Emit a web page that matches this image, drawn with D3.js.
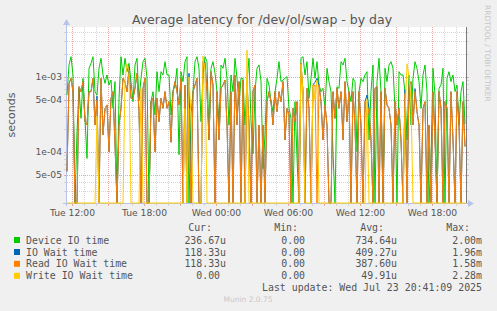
<!DOCTYPE html>
<html><head><meta charset="utf-8">
<script src="https://cdn.jsdelivr.net/npm/d3@7"></script>
<style>body{margin:0;background:#f0f0f0}svg{display:block}</style>
</head><body><svg id="c" width="497" height="311"></svg>
<script>
// ---- data (microseconds, one sample every 10 minutes from Tue 11:35) ----
const seriesNames = ["Device IO time", "IO Wait time", "Read IO Wait time", "Write IO Wait time"];
const seriesColors = ["#00CC00", "#0066B3", "#FF8000", "#FFCC00"];
const deviceIO = [
575,1445,1866,1063,0,187,706,281,960,281, 82,1306,1521,1866,637,575,1306,1775,1063,824,
1063,782,912,382,867,0,520,1866,1063,1775, 1178,1521,867,469,1445,1775,494,960,1600,1775,
960,0,469,637,311,1178,637,1178,1063,1600, 1063,1063,311,637,782,1306,92,1178,867,1600,
1866,0,311,637,1600,1866,1306,254,1063,1866, 1600,145,1306,1600,1120,637,229,1445,1306,1775,
960,229,1063,637,1775,960,424,960,960,229, 867,1775,254,95,637,1306,1445,867,60,169,
960,782,469,345,637,960,1600,867,912,960, 1010,382,281,0,469,82,0,1775,1866,1063,
1600,520,960,1775,960,1600,782,637,706,382, 1306,867,637,101,0,743,706,1600,1445,1775,
867,637,469,960,867,101,637,960,867,1063, 1178,145,637,1445,0,867,1775,637,0,1306,
867,1445,1600,1306,382,0,1178,1063,1063,637, 145,1063,229,960,1600,1306,867,382,1063,1445,
637,0,82,1306,575,0,706,782,1306,0, 960,1178,867,1063,637,782,229,637,867,237];
const ioWait = [
55,824,960,637,0,0,743,637,867,254, 229,637,637,960,229,560,0,960,169,382,
424,101,520,637,124,0,229,382,960,867, 637,1350,520,520,706,1120,345,0,706,960,
0,0,469,520,101,520,254,520,382,637, 382,469,135,637,867,637,424,960,0,782,
0,1120,0,637,782,960,0,0,1600,1600, 637,145,1178,782,0,637,145,706,782,912,
229,0,637,0,1063,229,867,0,912,0, 867,229,0,637,782,0,229,0,229,0,
469,637,469,229,637,345,637,469,867,145, 382,311,0,382,254,469,0,1521,637,0,
706,382,0,782,850,960,782,469,145,424, 229,0,0,637,281,706,382,637,145,867,
254,637,0,637,229,0,637,229,0,469, 575,382,145,0,706,743,0,637,0,706,
424,382,229,0,469,229,382,145,0,680, 0,782,867,229,700,345,229,0,382,469,
0,229,0,637,145,0,637,382,0,469, 382,0,637,145,0,637,229,0,469,118];
const readWait = [
55,824,960,637,0,0,743,637,867,254, 229,637,637,960,229,494,0,960,169,382,
424,101,520,637,124,0,229,382,960,867, 637,1120,520,520,706,1120,345,0,706,960,
0,0,469,520,101,520,254,520,382,637, 382,469,135,637,867,637,424,960,0,782,
0,382,0,637,782,960,0,0,1600,1445, 637,145,1178,782,0,637,145,706,782,912,
229,0,637,0,1063,229,867,0,912,0, 867,229,0,637,782,0,229,0,229,0,
469,637,469,229,637,345,637,469,867,145, 382,311,0,382,254,469,0,1521,637,0,
706,382,0,782,782,0,782,469,145,424, 229,0,0,637,281,706,382,637,145,867,
254,637,0,637,229,0,637,229,0,469, 281,382,145,0,706,743,0,637,0,706,
424,382,229,0,469,229,382,145,0,600, 0,782,867,229,637,345,229,0,382,469,
0,229,0,637,145,0,637,382,0,469, 382,0,637,145,0,637,229,0,469,118];
const writeWait = [
0,0,0,0,0,0,0,0,0,0, 0,0,0,0,0,300,0,0,0,0,
0,0,0,0,0,0,0,0,0,900, 1500,1200,0,0,0,0,0,700,0,0,
0,0,0,0,0,0,0,0,0,0, 0,0,0,0,0,0,0,0,0,380,
0,1000,300,0,0,0,0,0,1900,1200, 0,0,0,0,0,0,0,0,0,0,
0,0,0,0,0,0,0,0,0,0, 2280,0,0,0,0,0,0,0,0,0,
0,0,0,0,0,0,0,0,0,0, 0,0,0,0,0,0,0,1500,600,0,
0,0,0,780,500,900,0,0,0,0, 0,0,0,0,0,0,0,0,0,0,
0,0,0,0,0,0,0,0,0,0, 500,0,0,0,0,0,0,0,0,0,
0,0,0,0,0,0,0,0,0,300, 1500,1000,500,0,0,0,0,0,0,0,
0,0,0,0,0,0,0,0,0,0, 0,0,0,0,0,0,0,0,0,0];
const curVals = ["236.67u", "118.33u", "118.33u", "0.00\u00a0"];
const minVals = ["0.00\u00a0", "0.00\u00a0", "0.00\u00a0", "0.00\u00a0"];
const avgVals = ["734.64u", "409.27u", "387.60u", "49.91u"];
const maxVals = ["2.00m", "1.96m", "1.58m", "2.28m"];
const xTickLabels = ["Tue 12:00", "Tue 18:00", "Wed 00:00", "Wed 06:00", "Wed 12:00", "Wed 18:00"];
const xTickTimes = [new Date(2025,6,22,12), new Date(2025,6,22,18), new Date(2025,6,23,0),
                    new Date(2025,6,23,6), new Date(2025,6,23,12), new Date(2025,6,23,18)];
const yTickValues = [1e-3, 5e-4, 1e-4, 5e-5];
const yTickLabels = ["1e-03", "5e-04", "1e-04", "5e-05"];
const startTime = new Date(2025,6,22,11,35);
const stepMin = 10;

// ---- layout ----
const L = 67, R = 466, T = 27, B = 203;
const svg = d3.select("#c");
const x = d3.scaleTime().domain([startTime, new Date(+startTime + 399*5*60000)]).range([L, R]);
const y = d3.scaleLog().domain([2.09e-5, 4.64e-3]).range([B, T]).clamp(true);
const tOf = i => new Date(+startTime + i*stepMin*60000);
const yOf = v => v <= 0 ? B : y(v*1e-6);

svg.append("rect").attr("width",497).attr("height",311).attr("fill","#f0f0f0");
svg.append("rect").attr("x",L).attr("y",T).attr("width",R-L).attr("height",B-T).attr("fill","#ffffff");

const grid = svg.append("g");
// vertical grid
d3.timeHour.every(1).range(startTime, x.domain()[1]).forEach(h => {
  const xx = Math.round(x(h)) + 0.5, major = h.getHours() % 3 === 0;
  grid.append("line").attr("x1",xx).attr("x2",xx).attr("y1",T).attr("y2",B)
    .attr("stroke", major ? "#eba5a5" : "#d6d6d6").attr("stroke-dasharray","1,1");
  grid.append("line").attr("x1",xx).attr("x2",xx).attr("y1",B).attr("y2",B+3)
    .attr("stroke", major ? "#eba5a5" : "#d6d6d6");
});
// horizontal grid
[-5,-4,-3].forEach(k => {
  for (let m = 1; m <= 9; m++) {
    const v = m * Math.pow(10, k);
    if (v < y.domain()[0] || v > y.domain()[1]) continue;
    const yy = Math.round(y(v)) + 0.5;
    const major = (m === 1 || m === 5);
    const col = major ? "#eba5a5" : "#d6d6d6";
    if (m <= 5) grid.append("line").attr("x1",L).attr("x2",R).attr("y1",yy).attr("y2",yy)
      .attr("stroke", col).attr("stroke-dasharray","1,1");
    grid.append("line").attr("x1",L-3).attr("x2",L).attr("y1",yy).attr("y2",yy).attr("stroke",col);
    grid.append("line").attr("x1",R).attr("x2",R+3).attr("y1",yy).attr("y2",yy).attr("stroke",col);
  }
});

// axes lines + arrows
const axCol = "#b9c3ea";
svg.append("line").attr("x1",66.5).attr("x2",66.5).attr("y1",25).attr("y2",206).attr("stroke",axCol);
svg.append("line").attr("x1",63).attr("x2",468).attr("y1",B+0.5).attr("y2",B+0.5).attr("stroke",axCol);
svg.append("path").attr("d","M63,25 L70,25 L66.5,19 Z").attr("fill",axCol);
svg.append("path").attr("d","M468,200 L468,207 L474,203.5 Z").attr("fill",axCol);
svg.append("line").attr("x1",R+0.5).attr("x2",R+0.5).attr("y1",T).attr("y2",B).attr("stroke","#7a7a7a");

// series lines
const line = d3.line().x((d,i) => x(tOf(i))).y(d => yOf(d));
[deviceIO, ioWait, readWait, writeWait].forEach((s, k) => {
  svg.append("path").datum(s).attr("d", line).attr("fill","none")
    .attr("stroke", seriesColors[k]).attr("stroke-width", 1);
});

// axes text
const xa = svg.append("g").attr("transform",`translate(0,${B})`)
  .call(d3.axisBottom(x).tickValues(xTickTimes).tickFormat((d,i)=>xTickLabels[i]).tickSize(0).tickPadding(6));
xa.select(".domain").remove();
xa.selectAll("text").attr("font-family","DejaVu Sans").attr("font-size","9.2px").attr("fill","#555");
const ya = svg.append("g").attr("transform",`translate(${L-1},0)`)
  .call(d3.axisLeft(y).tickValues(yTickValues).tickFormat((d,i)=>yTickLabels[i]).tickSize(0).tickPadding(4));
ya.select(".domain").remove();
ya.selectAll("text").attr("font-family","DejaVu Sans").attr("font-size","9.2px").attr("fill","#555");

svg.append("text").attr("x",262).attr("y",24).attr("text-anchor","middle")
  .attr("font-family","DejaVu Sans").attr("font-size","12.5px").attr("fill","#555")
  .text("Average latency for /dev/ol/swap - by day");
svg.append("text").attr("transform","translate(15,115) rotate(-90)").attr("text-anchor","middle")
  .attr("font-family","DejaVu Sans").attr("font-size","11px").attr("fill","#555").text("seconds");
svg.append("text").attr("transform","translate(484.5,5) rotate(90)").attr("text-anchor","start")
  .attr("font-family","DejaVu Sans").attr("font-size","7.5px").attr("fill","#c6c6c6").text("RRDTOOL / TOBI OETIKER");

// legend
const mono = "DejaVu Sans Mono", lf = "9.9px", tc = "#555";
[["Cur:",212],["Min:",298],["Avg:",384],["Max:",470]].forEach(([t,xe]) =>
  svg.append("text").attr("x",xe).attr("y",231).attr("text-anchor","end")
    .attr("font-family",mono).attr("font-size",lf).attr("fill",tc).text(t));
const rowY = [243.5, 255.5, 267.3, 279.3];
seriesNames.forEach((n, k) => {
  svg.append("rect").attr("x",14).attr("y",rowY[k]-6.5).attr("width",6).attr("height",6).attr("fill",seriesColors[k]);
  svg.append("text").attr("x",26).attr("y",rowY[k]).attr("font-family",mono).attr("font-size",lf).attr("fill",tc).text(n);
  [[curVals,226],[minVals,311],[avgVals,397],[maxVals,482]].forEach(([arr,xe]) =>
    svg.append("text").attr("x",xe).attr("y",rowY[k]).attr("text-anchor","end")
      .attr("font-family",mono).attr("font-size",lf).attr("fill",tc).text(arr[k]));
});
svg.append("text").attr("x",482).attr("y",291).attr("text-anchor","end")
  .attr("font-family",mono).attr("font-size",lf).attr("fill",tc).text("Last update: Wed Jul 23 20:41:09 2025");
svg.append("text").attr("x",248).attr("y",302).attr("text-anchor","middle")
  .attr("font-family","DejaVu Sans").attr("font-size","7.5px").attr("fill","#c8c8c8").text("Munin 2.0.75");
</script></body></html>
